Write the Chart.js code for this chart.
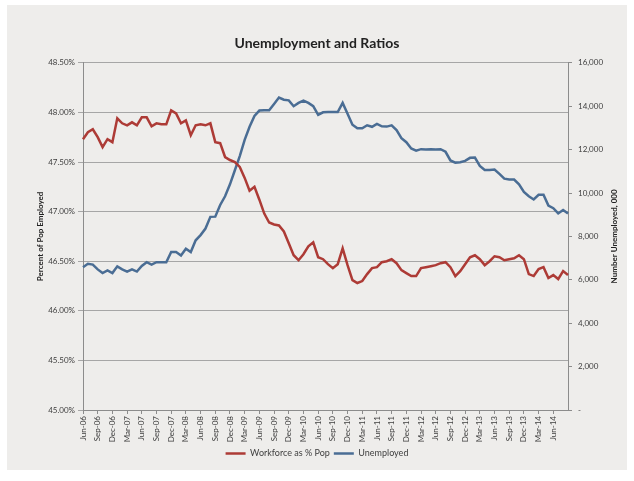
<!DOCTYPE html>
<html>
<head>
<meta charset="utf-8">
<script src="https://cdn.jsdelivr.net/npm/chart.js@4.4.0/dist/chart.umd.min.js"></script>
<style>
  html, body { margin: 0; padding: 0; background: #ffffff; }
  #panel { position: absolute; left: 7px; top: 5px; width: 620px; height: 465px; background: #eeedeb; }
</style>
</head>
<body>
<div id="panel"><canvas id="chart" width="620" height="465"></canvas></div>
<script>
// monthly categories, Jun-06 .. Sep-14
const months = [
  'Jun-06','Jul-06','Aug-06','Sep-06','Oct-06','Nov-06','Dec-06',
  'Jan-07','Feb-07','Mar-07','Apr-07','May-07','Jun-07','Jul-07','Aug-07','Sep-07','Oct-07','Nov-07','Dec-07',
  'Jan-08','Feb-08','Mar-08','Apr-08','May-08','Jun-08','Jul-08','Aug-08','Sep-08','Oct-08','Nov-08','Dec-08',
  'Jan-09','Feb-09','Mar-09','Apr-09','May-09','Jun-09','Jul-09','Aug-09','Sep-09','Oct-09','Nov-09','Dec-09',
  'Jan-10','Feb-10','Mar-10','Apr-10','May-10','Jun-10','Jul-10','Aug-10','Sep-10','Oct-10','Nov-10','Dec-10',
  'Jan-11','Feb-11','Mar-11','Apr-11','May-11','Jun-11','Jul-11','Aug-11','Sep-11','Oct-11','Nov-11','Dec-11',
  'Jan-12','Feb-12','Mar-12','Apr-12','May-12','Jun-12','Jul-12','Aug-12','Sep-12','Oct-12','Nov-12','Dec-12',
  'Jan-13','Feb-13','Mar-13','Apr-13','May-13','Jun-13','Jul-13','Aug-13','Sep-13','Oct-13','Nov-13','Dec-13',
  'Jan-14','Feb-14','Mar-14','Apr-14','May-14','Jun-14','Jul-14','Aug-14','Sep-14'
];

// labels shown on the x axis
const tickMonths = [
  'Jun-06','Sep-06','Dec-06','Mar-07','Jun-07','Sep-07','Dec-07','Mar-08','Jun-08','Sep-08','Dec-08',
  'Mar-09','Jun-09','Sep-09','Dec-09','Mar-10','Jun-10','Sep-10','Dec-10','Mar-11','Jun-11','Sep-11',
  'Dec-11','Mar-12','Jun-12','Sep-12','Dec-12','Mar-13','Jun-13','Sep-13','Dec-13','Mar-14','Jun-14'
];

// Workforce as % of population (left axis)
const workforcePct = [
  47.73, 47.80, 47.83, 47.75, 47.65, 47.73, 47.70, 47.94, 47.89, 47.87,
  47.90, 47.87, 47.95, 47.95, 47.86, 47.89, 47.88, 47.88, 48.02, 47.99,
  47.89, 47.92, 47.77, 47.87, 47.88, 47.87, 47.89, 47.70, 47.69, 47.55,
  47.52, 47.50, 47.45, 47.34, 47.21, 47.25, 47.12, 46.98, 46.89, 46.87,
  46.86, 46.80, 46.68, 46.56, 46.51, 46.57, 46.65, 46.69, 46.54, 46.52,
  46.47, 46.43, 46.47, 46.63, 46.46, 46.31, 46.28, 46.30, 46.37, 46.43,
  46.44, 46.49, 46.50, 46.52, 46.48, 46.41, 46.38, 46.35, 46.35, 46.43,
  46.44, 46.45, 46.46, 46.48, 46.49, 46.44, 46.35, 46.40, 46.47, 46.54,
  46.56, 46.52, 46.46, 46.50, 46.55, 46.54, 46.51, 46.52, 46.53, 46.56,
  46.52, 46.37, 46.35, 46.42, 46.44, 46.33, 46.36, 46.32, 46.40, 46.36
];

// Number unemployed, thousands (right axis)
const unemployed = [
  6580, 6740, 6700, 6480, 6310, 6430, 6310, 6620, 6480, 6380,
  6480, 6380, 6640, 6810, 6700, 6810, 6810, 6810, 7280, 7280,
  7120, 7430, 7280, 7820, 8060, 8360, 8900, 8910, 9450, 9850,
  10400, 11050, 11700, 12450, 13050, 13550, 13800, 13810, 13810, 14100,
  14400, 14300, 14270, 14000, 14150, 14260, 14150, 14000, 13600, 13720,
  13730, 13730, 13730, 14150, 13650, 13150, 12980, 12980, 13120, 13050,
  13180, 13070, 13060, 13120, 12900, 12530, 12340, 12050, 11950, 12020,
  12010, 12020, 12000, 12020, 11900, 11500, 11400, 11420, 11480, 11620,
  11630, 11250, 11060, 11060, 11080, 10880, 10660, 10620, 10620, 10400,
  10050, 9850, 9700, 9920, 9920, 9420, 9300, 9060, 9220, 9060
];

const axisColor = '#8c8c8c';
const textColor = '#404040';
const fontFamily = 'Lato';
const rightTitleText = 'Number Unemployed, 000';

// right axis title reads bottom-to-top like the left one
const rightTitle = {
  id: 'rightTitle',
  afterDraw(chart) {
    const c = chart.ctx;
    const area = chart.chartArea;
    c.save();
    c.translate(607, (area.top + area.bottom) / 2);
    c.rotate(-Math.PI / 2);
    c.font = 'bold 8px ' + fontFamily;
    c.fillStyle = '#222222';
    c.textAlign = 'center';
    c.textBaseline = 'middle';
    c.fillText(rightTitleText, 0, 0);
    c.restore();
  }
};

const ctx = document.getElementById('chart').getContext('2d');
new Chart(ctx, {
  type: 'line',
  data: {
    labels: months,
    datasets: [{
      label: 'Workforce as % Pop',
      data: workforcePct,
      yAxisID: 'y',
      borderColor: '#ad3b36',
      backgroundColor: '#ad3b36',
      borderWidth: 2.5,
      pointRadius: 0,
      tension: 0
    }, {
      label: 'Unemployed',
      data: unemployed,
      yAxisID: 'y1',
      borderColor: '#4a6d94',
      backgroundColor: '#4a6d94',
      borderWidth: 2.5,
      pointRadius: 0,
      tension: 0
    }]
  },
  plugins: [rightTitle],
  options: {
    responsive: false,
    animation: false,
    layout: { padding: { top: 0, left: 0, right: 0, bottom: 2 } },
    plugins: {
      title: {
        display: true,
        text: 'Unemployment and Ratios',
        color: '#222222',
        font: { family: fontFamily, size: 14, weight: 'bold' },
        padding: { top: 30, bottom: 11 }
      },
      legend: {
        position: 'bottom',
        labels: {
          color: textColor,
          font: { family: fontFamily, size: 9 },
          usePointStyle: true,
          pointStyle: 'line',
          pointStyleWidth: 20,
          boxHeight: 9,
          padding: 4
        }
      },
      tooltip: { enabled: false }
    },
    scales: {
      x: {
        offset: false,
        grid: { display: true, drawOnChartArea: false, tickLength: 4, tickColor: axisColor },
        border: { display: true, color: axisColor },
        ticks: {
          autoSkip: false,
          minRotation: 90,
          maxRotation: 90,
          padding: 2,
          color: textColor,
          font: { family: fontFamily, size: 8 },
          callback: function(v) {
            const l = this.getLabelForValue(v);
            return tickMonths.includes(l) ? l : null;
          }
        },
        afterFit: function(s) { s.height = 35; }
      },
      y: {
        position: 'left',
        min: 45,
        max: 48.5,
        grid: { color: '#a6a6a6', tickLength: 5 },
        border: { display: true, color: axisColor },
        ticks: {
          stepSize: 0.5,
          padding: 3,
          color: textColor,
          font: { family: fontFamily, size: 8 },
          callback: function(v) { return v.toFixed(2) + '%'; }
        },
        title: {
          display: true,
          text: 'Percent of Pop Employed',
          color: '#222222',
          font: { family: fontFamily, size: 8, weight: 'bold' },
          padding: { top: 29, bottom: 0 }
        },
        afterFit: function(s) { s.width = 76; }
      },
      y1: {
        position: 'right',
        min: 0,
        max: 16000,
        grid: { drawOnChartArea: false, tickLength: 4, tickColor: axisColor },
        border: { display: true, color: axisColor },
        ticks: {
          stepSize: 2000,
          padding: 6,
          color: textColor,
          font: { family: fontFamily, size: 8 },
          callback: function(v) { return v === 0 ? '-' : v.toLocaleString('en-US'); }
        },
        afterFit: function(s) { s.width = 59; }
      }
    }
  }
});
</script>
</body>
</html>
